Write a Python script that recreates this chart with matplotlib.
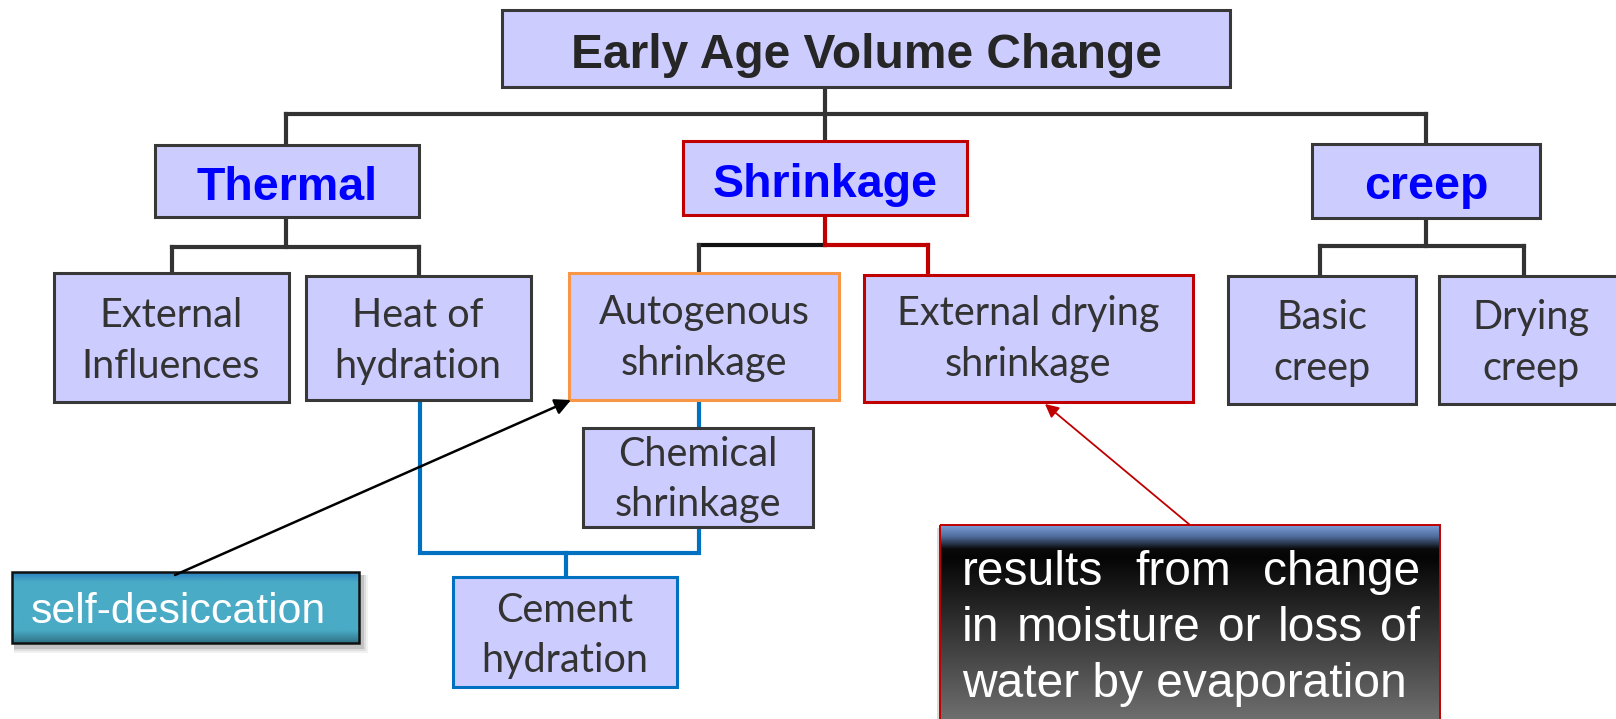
import numpy as np
import matplotlib
matplotlib.use("Agg")
import matplotlib.pyplot as plt
from matplotlib.patches import Rectangle, FancyArrowPatch
from matplotlib.colors import to_rgb

W, H = 1616, 719

# === labels ===
title = "Early Age Volume Change"
groups = ["Thermal", "Shrinkage", "creep"]
leaves = [["External", "Influences"], ["Heat of", "hydration"],
          ["Autogenous", "shrinkage"], ["External drying", "shrinkage"],
          ["Basic", "creep"], ["Drying", "creep"]]
chem_lines = ["Chemical", "shrinkage"]
cement_lines = ["Cement", "hydration"]
note_left = "self-desiccation"
note_right = [["results", "from", "change"],
              ["in", "moisture", "or", "loss", "of"],
              ["water by evaporation"]]

# === layout (pixel boxes x0, y0, x1, y1) ===
title_box = (502, 10, 1230, 87)
group_boxes = [(155, 145, 419, 217), (683, 141, 967, 215), (1312, 144, 1540, 218)]
leaf_boxes = [(54, 273, 289, 402), (306, 276, 531, 400),
              (569, 273, 839, 400), (864, 275, 1193, 402),
              (1228, 276, 1416, 404), (1439, 276, 1650, 404)]
chem_box = (583, 428, 813, 527)
cement_box = (453, 577, 677, 687)
left_note_box = (12, 572, 359, 643)
right_note_box = (940, 525, 1440, 740)

FILL = "#ccccff"
EDGE = "#383838"
LINE = "#333333"
RED = "#c00000"
ORANGE = "#f79646"
CBLUE = "#0070c0"
TXT = "#333333"

fig = plt.figure(figsize=(W / 100, H / 100), dpi=100)
ax = fig.add_axes([0, 0, 1, 1])
ax.set_xlim(0, W)
ax.set_ylim(H, 0)
ax.axis("off")


def box(r, ec=EDGE, lw=2.2, fc=FILL, z=3):
    x0, y0, x1, y1 = r
    ax.add_patch(Rectangle((x0, y0), x1 - x0, y1 - y0, fc=fc, ec=ec, lw=lw, zorder=z))


def seg(xs, ys, color=LINE, lw=3.0):
    ax.plot(xs, ys, color=color, lw=lw, solid_capstyle="projecting",
            solid_joinstyle="miter", zorder=2)


def gradient(r, stops, z=3):
    x0, y0, x1, y1 = r
    t = np.linspace(0, 1, 200)
    pos = [s[0] for s in stops]
    cols = np.array([to_rgb(s[1]) for s in stops])
    img = np.stack([np.interp(t, pos, cols[:, k]) for k in range(3)], axis=-1)
    ax.imshow(img[:, None, :], extent=(x0, x1, y1, y0), origin="upper",
              aspect="auto", interpolation="bilinear", zorder=z)


def two_lines(lines, cx, base1, pitch=51):
    for i, s in enumerate(lines):
        ax.text(cx, base1 + i * pitch, s, ha="center", va="baseline",
                fontsize=28.5, family="Lato", color=TXT, zorder=5)


# === connectors ===
# title -> groups
seg([825, 825], [87, 141])
seg([286, 1426], [114, 114])
seg([286, 286], [114, 145])
seg([1426, 1426], [114, 144])
# thermal
seg([286, 286], [217, 247])
seg([172, 419], [247, 247])
seg([172, 172], [247, 273])
seg([419, 419], [247, 276])
# shrinkage
seg([825, 825], [215, 245], RED)
seg([699, 825], [245, 245], "#111111")
seg([699, 699], [245, 273])
seg([825, 928], [245, 245], RED)
seg([928, 928], [245, 275], RED)
# creep
seg([1426, 1426], [218, 246])
seg([1320, 1524], [246, 246])
seg([1320, 1320], [246, 276])
seg([1524, 1524], [246, 276])
# blue hydration links
seg([420, 420, 699, 699], [400, 553, 553, 527], CBLUE)
seg([699, 699], [400, 428], CBLUE)
seg([566, 566], [553, 577], CBLUE)

# === boxes ===
box(title_box)
ax.text(866, 68, title, ha="center", va="baseline", fontsize=34.5,
        fontweight="bold", family="Liberation Sans", color="#262626", zorder=5)

group_edges = [EDGE, RED, EDGE]
group_base = [200, 197, 199]
for r, lab, ec, b in zip(group_boxes, groups, group_edges, group_base):
    box(r, ec=ec)
    ax.text((r[0] + r[2]) / 2, b, lab, ha="center", va="baseline", fontsize=33.5,
            fontweight="bold", family="Liberation Sans", color="#0000ff", zorder=5)

leaf_edges = [EDGE, EDGE, ORANGE, RED, EDGE, EDGE]
leaf_cx = [171, 418, 704, 1028, 1322, 1531]
leaf_base = [327, 327, 324, 325, 329, 329]
for r, lines, ec, cx, b in zip(leaf_boxes, leaves, leaf_edges, leaf_cx, leaf_base):
    box(r, ec=ec)
    two_lines(lines, cx, b)

box(chem_box)
two_lines(chem_lines, 698, 466, 50)
box(cement_box, ec=CBLUE)
two_lines(cement_lines, 565, 622, 50)

# === self-desiccation note ===
x0, y0, x1, y1 = left_note_box
for k, a in [(7, 0.08), (5, 0.12), (3, 0.2)]:
    ax.add_patch(Rectangle((x0 + 2, y0 + 3), x1 - x0 + k, y1 - y0 + k,
                           fc="#555555", ec="none", alpha=a, zorder=2))
gradient(left_note_box, [(0, "#2b7fbf"), (0.14, "#4aabc6"), (0.82, "#4aabc6"),
                         (1, "#2f7186")])
box(left_note_box, ec="#111111", lw=1.8, fc="none", z=4)
ax.text(31, 623, note_left, ha="left", va="baseline", fontsize=30.8,
        family="Liberation Sans", color="white", zorder=5)

# === right note (justified text) ===
x0, y0, x1, y1 = right_note_box
ax.add_patch(Rectangle((x0 - 3, y0 + 3), x1 - x0 + 3, y1 - y0,
                       fc="#888888", ec="none", alpha=0.3, zorder=2))
gradient(right_note_box, [(0, "#7a9dd6"), (0.05, "#506e9e"), (0.11, "#0a0a0a"),
                          (0.15, "#050505"), (1, "#7c7c7c")])
box(right_note_box, ec=RED, lw=1.4, fc="none", z=4)

renderer = fig.canvas.get_renderer()
tx0, tx1 = 962, 1420
bases = [585, 641, 697]
for words, b in zip(note_right, bases):
    if len(words) == 1:
        ax.text(tx0, b, words[0], ha="left", va="baseline", fontsize=34.5,
                family="Liberation Sans", color="white", zorder=5)
        continue
    objs = [ax.text(0, b, w, ha="left", va="baseline", fontsize=34.5,
                    family="Liberation Sans", color="white", zorder=5) for w in words]
    widths = [o.get_window_extent(renderer).width for o in objs]
    gap = (tx1 - tx0 - sum(widths)) / (len(words) - 1)
    x = tx0
    for o, w in zip(objs, widths):
        o.set_x(x)
        x += w + gap

# === arrows ===
ax.add_patch(FancyArrowPatch((175, 575), (571, 400), arrowstyle="-|>",
                             mutation_scale=24, lw=1.8, color="black",
                             shrinkA=0, shrinkB=0, zorder=6))
ax.add_patch(FancyArrowPatch((1190, 525), (1045, 404), arrowstyle="-|>",
                             mutation_scale=20, lw=1.3, color=RED,
                             shrinkA=0, shrinkB=0, zorder=6))

fig.savefig("out.png", dpi=100)
